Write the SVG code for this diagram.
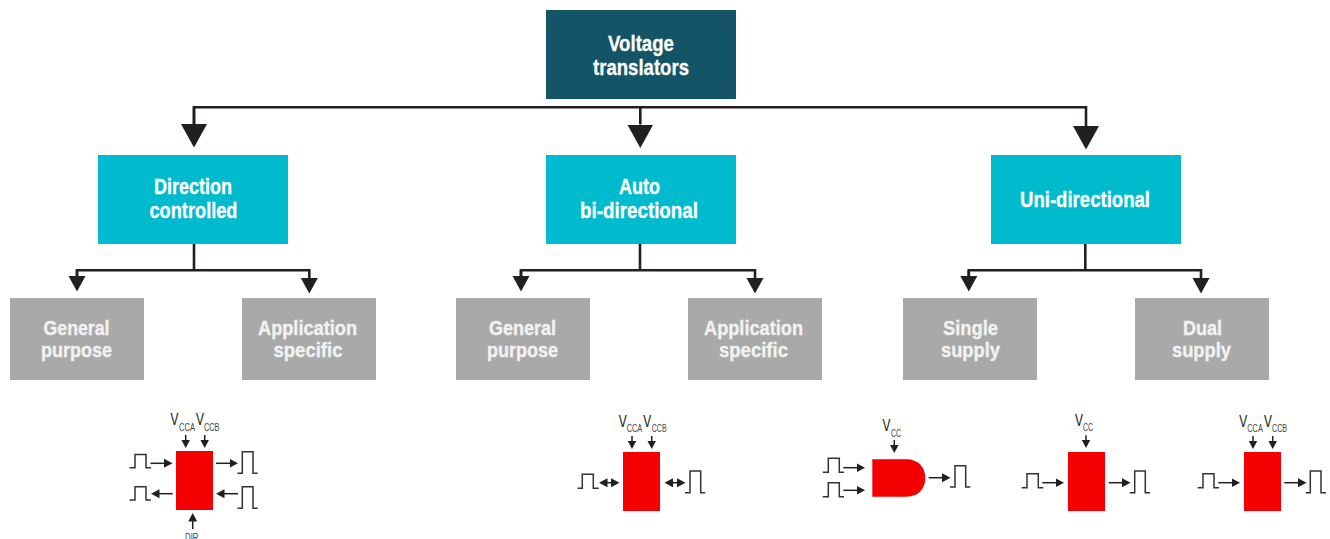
<svg xmlns="http://www.w3.org/2000/svg" width="1330" height="539" viewBox="0 0 1330 539">
<style>
.t{font-family:"Liberation Sans",Arial,sans-serif;font-weight:700;fill:#fff;stroke:#fff;stroke-width:.3;text-anchor:middle;font-size:22.500px}
.g{fill:#f2f2f2;stroke:#f2f2f2;stroke-width:.35;font-size:20.500px}
.conn{fill:none;stroke:#231f20;stroke-width:2.600}
.big{marker-end:url(#mb)}
.mid{marker-end:url(#mm)}
.sa{fill:none;stroke:#231f20;stroke-width:1.500;marker-end:url(#ms)}
.da{fill:none;stroke:#231f20;stroke-width:1.500;marker-end:url(#ms);marker-start:url(#ms)}
.p{fill:none;stroke:#333;stroke-width:1.500}
.red{fill:#f50000}
.v{font-family:"Liberation Sans",Arial,sans-serif;fill:#231f20;font-size:17px;stroke:#231f20;stroke-width:.15}
.s{font-family:"Liberation Sans",Arial,sans-serif;fill:#444;font-size:10.500px}
</style>
<defs>
<marker id="mb" markerUnits="userSpaceOnUse" markerWidth="24" markerHeight="27" viewBox="0 0 24 27" refX="0" refY="13.500" orient="auto"><path d="M0 .5L23.500 13.500L0 26.500Z" fill="#231f20"/></marker>
<marker id="mm" markerUnits="userSpaceOnUse" markerWidth="16" markerHeight="18" viewBox="0 0 16 18" refX="0" refY="9" orient="auto"><path d="M0 .5L15.500 9L0 17.500Z" fill="#231f20"/></marker>
<marker id="ms" markerUnits="userSpaceOnUse" markerWidth="9" markerHeight="10" viewBox="0 0 9 10" refX="0.5" refY="5" orient="auto-start-reverse"><path d="M0 .5L8.500 5L0 9.500Z" fill="#231f20"/></marker>
</defs>
<rect width="1330" height="539" fill="#fff"/>
<g id="connectors">
<path class="conn big" d="M194 107.300V124"/>
<path class="conn big" d="M640.300 107.300V124.500"/>
<path class="conn big" d="M194 124V107.300H1086V126"/>
<path class="conn" d="M194 244V270.300"/>
<path class="conn mid" d="M77 270.300V276"/>
<path class="conn mid" d="M77 276V270.300H309.300V278"/>
<path class="conn" d="M640 244V270.300"/>
<path class="conn mid" d="M521 270.300V276"/>
<path class="conn mid" d="M521 276V270.300H755V278"/>
<path class="conn" d="M1085.300 244V270.300"/>
<path class="conn mid" d="M968.800 270.300V276"/>
<path class="conn mid" d="M968.800 276V270.300H1201V278"/>
</g>
<g id="root"><rect x="546" y="10" width="190" height="89" fill="#135566"/>
<text class="t" x="641" y="51" textLength="66" lengthAdjust="spacingAndGlyphs">Voltage</text>
<text class="t" x="641" y="75" textLength="96" lengthAdjust="spacingAndGlyphs">translators</text></g>
<g id="direction-controlled"><rect x="98" y="155" width="190" height="89" fill="#00bbce"/>
<text class="t" x="193" y="194" textLength="78" lengthAdjust="spacingAndGlyphs">Direction</text>
<text class="t" x="193.500" y="218" textLength="88" lengthAdjust="spacingAndGlyphs">controlled</text></g>
<g id="auto-bi-directional"><rect x="546" y="155" width="190" height="89" fill="#00bbce"/>
<text class="t" x="639.500" y="194" textLength="41" lengthAdjust="spacingAndGlyphs">Auto</text>
<text class="t" x="639" y="218" textLength="118" lengthAdjust="spacingAndGlyphs">bi-directional</text></g>
<g id="uni-directional"><rect x="991" y="155" width="190" height="89" fill="#00bbce"/>
<text class="t" x="1085" y="206.500" textLength="130" lengthAdjust="spacingAndGlyphs">Uni-directional</text></g>
<g id="general-a"><rect x="10" y="298" width="134" height="82" fill="#a9a9a9"/>
<text class="t g" x="76.500" y="335" textLength="66" lengthAdjust="spacingAndGlyphs">General</text>
<text class="t g" x="76.500" y="357" textLength="71" lengthAdjust="spacingAndGlyphs">purpose</text></g>
<g id="application-a"><rect x="242" y="298" width="134" height="82" fill="#a9a9a9"/>
<text class="t g" x="307.500" y="335" textLength="99" lengthAdjust="spacingAndGlyphs">Application</text>
<text class="t g" x="308" y="357" textLength="69" lengthAdjust="spacingAndGlyphs">specific</text></g>
<g id="general-b"><rect x="456" y="298" width="134" height="82" fill="#a9a9a9"/>
<text class="t g" x="522.500" y="335" textLength="67" lengthAdjust="spacingAndGlyphs">General</text>
<text class="t g" x="522.500" y="357" textLength="71" lengthAdjust="spacingAndGlyphs">purpose</text></g>
<g id="application-b"><rect x="688" y="298" width="134" height="82" fill="#a9a9a9"/>
<text class="t g" x="753.500" y="335" textLength="99" lengthAdjust="spacingAndGlyphs">Application</text>
<text class="t g" x="753.500" y="357" textLength="69" lengthAdjust="spacingAndGlyphs">specific</text></g>
<g id="single-supply"><rect x="903" y="298" width="134" height="82" fill="#a9a9a9"/>
<text class="t g" x="970.500" y="335" textLength="55" lengthAdjust="spacingAndGlyphs">Single</text>
<text class="t g" x="970.500" y="357" textLength="59" lengthAdjust="spacingAndGlyphs">supply</text></g>
<g id="dual-supply"><rect x="1135" y="298" width="134" height="82" fill="#a9a9a9"/>
<text class="t g" x="1202.500" y="335" textLength="39" lengthAdjust="spacingAndGlyphs">Dual</text>
<text class="t g" x="1201.500" y="357" textLength="59" lengthAdjust="spacingAndGlyphs">supply</text></g>

<g id="icon-direction">
<rect class="red" x="176" y="451" width="37" height="59"/>
<text class="v" transform="translate(170.500 425) scale(.7 1)">V</text>
<text class="s" transform="translate(179 431) scale(.72 1)">CCA</text>
<text class="v" transform="translate(196 425) scale(.7 1)">V</text>
<text class="s" transform="translate(204 431) scale(.7 1)">CCB</text>
<path class="sa" d="M185.700 435V440"/><path class="sa" d="M204.700 435V440"/>
<path class="p" d="M129.500 467.700H135V454.500H146V467.700H151"/>
<path class="sa" d="M150.500 463.300H164.500"/>
<path class="p" d="M237.500 473.300H242.300V451.700H253V473.300H257.700"/>
<path class="sa" d="M216 463.300H230"/>
<path class="p" d="M129.500 500H135V486.700H146V500H151"/>
<path class="sa" d="M172.700 493.700H159"/>
<path class="p" d="M237.500 508.300H242.300V486.700H253V508.300H257.700"/>
<path class="sa" d="M238 493.700H224"/>
<path class="sa" d="M192.700 529V521"/>
<text class="s" transform="translate(185 541) scale(.75 1)">DIR</text>
</g>
<g id="icon-auto">
<rect class="red" x="623" y="452" width="37" height="59"/>
<text class="v" transform="translate(618.800 426.500) scale(.7 1)">V</text>
<text class="s" transform="translate(626.700 432) scale(.7 1)">CCA</text>
<text class="v" transform="translate(643.300 426.500) scale(.7 1)">V</text>
<text class="s" transform="translate(651.700 432) scale(.68 1)">CCB</text>
<path class="sa" d="M632 436V441"/><path class="sa" d="M651.700 436V441"/>
<path class="p" d="M577.500 488.300H582.300V474.300H593.300V488.300H598.700"/>
<path class="da" d="M607 482.700H611.500"/>
<path class="p" d="M685 492.700H690V471H700.700V492.700H705.300"/>
<path class="da" d="M672.500 482.700H677.500"/>
</g>
<g id="icon-gate">
<path class="red" d="M872.300 459.300H906.500C918 459.300 925.300 467 925.300 478C925.300 489 918 496.700 906.500 496.700H872.300Z"/>
<text class="v" transform="translate(882.500 431) scale(.7 1)">V</text>
<text class="s" transform="translate(891 436.700) scale(.66 1)">CC</text>
<path class="sa" d="M894.300 440V445"/>
<path class="p" d="M822.700 472.300H828.300V458.300H839.300V472.300H844"/>
<path class="sa" d="M843.300 467.700H857"/>
<path class="p" d="M822.700 496.700H828.300V482.700H839.300V496.700H844"/>
<path class="sa" d="M843.300 490.300H857"/>
<path class="sa" d="M928.700 477.700H942.500"/>
<path class="p" d="M950 487H955V465.700H965.700V487H970.300"/>
</g>
<g id="icon-uni-single">
<rect class="red" x="1068" y="452" width="37" height="59"/>
<text class="v" transform="translate(1075 425.700) scale(.7 1)">V</text>
<text class="s" transform="translate(1083 431) scale(.66 1)">CC</text>
<path class="sa" d="M1086 435.300V440"/>
<path class="p" d="M1021.700 487.700H1027V473.700H1038.300V487.700H1043.300"/>
<path class="sa" d="M1042.300 482.700H1056"/>
<path class="sa" d="M1108.700 482.700H1122.500"/>
<path class="p" d="M1129.700 492.700H1134.700V471H1145.300V492.700H1150"/>
</g>
<g id="icon-uni-dual">
<rect class="red" x="1244" y="452" width="37" height="59"/>
<text class="v" transform="translate(1239.300 426.500) scale(.7 1)">V</text>
<text class="s" transform="translate(1247.300 432) scale(.7 1)">CCA</text>
<text class="v" transform="translate(1264 426.500) scale(.7 1)">V</text>
<text class="s" transform="translate(1272 432) scale(.68 1)">CCB</text>
<path class="sa" d="M1253 436V441"/><path class="sa" d="M1272.700 436V441"/>
<path class="p" d="M1197.700 487.700H1203V473.700H1214V487.700H1219"/>
<path class="sa" d="M1218.300 482.700H1232"/>
<path class="sa" d="M1284.300 482.700H1298.500"/>
<path class="p" d="M1305.700 492.700H1310.300V471H1321V492.700H1326"/>
</g>
</svg>
